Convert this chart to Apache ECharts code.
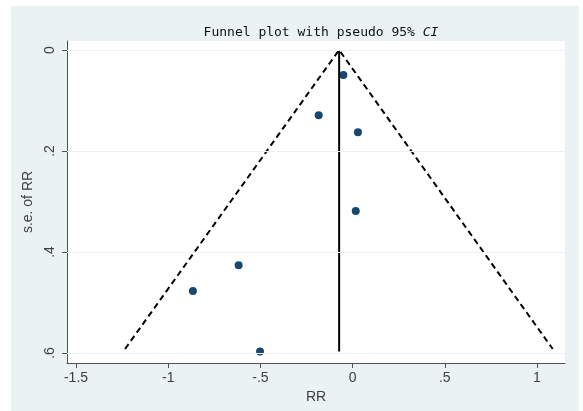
<!DOCTYPE html>
<html>
<head>
<meta charset="utf-8">
<script src="https://cdn.jsdelivr.net/npm/echarts@6/dist/echarts.min.js"></script>
<style>
  html, body { margin: 0; padding: 0; background: #fff; }
  #chart { width: 583px; height: 411px; }
</style>
</head>
<body>
<div id="chart"></div>
<script>
// studies: effect (RR, log scale) and its standard error
var studyRR = [-0.050, -0.184, 0.029, 0.017, -0.618, -0.866, -0.502];
var studySE = [0.0495, 0.129, 0.163, 0.319, 0.426, 0.477, 0.597];

// pseudo 95% CI limits and pooled estimate
var funnelX = [-1.234, -0.073, 1.085];
var funnelY = [0.592, 0, 0.592];
var pooledX = [-0.073, -0.073];
var pooledY = [0, 0.597];

var xTicks = [-1.5, -1, -0.5, 0, 0.5, 1];
var yTicks = [0, 0.2, 0.4, 0.6];

function stataNum(v) {
    // Stata style: .5 instead of 0.5
    var s = String(v);
    return s.replace(/^0\./, '.').replace(/^-0\./, '-.');
}

function zip(xs, ys) {
    var out = [];
    for (var i = 0; i < xs.length; i++) {
        out.push([xs[i], ys[i]]);
    }
    return out;
}

var chart = echarts.init(document.getElementById('chart'));

var axisColor = '#505050';
var labelFont = { fontFamily: 'Liberation Sans', fontSize: 14, color: '#404040' };

var option = {
    animation: false,
    backgroundColor: '#fff',
    graphic: [{
        type: 'rect',
        z: -10,
        shape: { x: 11, y: 6, width: 568, height: 405 },
        style: { fill: '#eaf2f3' }
    }],
    title: {
        text: 'Funnel plot with pseudo 95% {i|CI}',
        left: 316,
        top: 21,
        textAlign: 'center',
        textStyle: {
            fontFamily: 'DejaVu Sans Mono',
            fontSize: 13,
            fontWeight: 'normal',
            color: '#111',
            rich: {
                i: { fontFamily: 'DejaVu Sans Mono', fontSize: 13, fontStyle: 'italic', color: '#111' }
            }
        }
    },
    grid: {
        left: 67,
        top: 41,
        right: 18,
        bottom: 48,
        show: true,
        backgroundColor: '#fff',
        borderWidth: 0
    },
    xAxis: {
        type: 'value',
        min: -1.5488,
        max: 1.1518,
        name: 'RR',
        nameLocation: 'middle',
        nameGap: 21,
        nameTextStyle: labelFont,
        axisLine: { show: true, onZero: false, lineStyle: { color: axisColor, width: 1 } },
        axisTick: { show: true, inside: false, customValues: xTicks, length: 5, lineStyle: { color: axisColor } },
        axisLabel: Object.assign({ customValues: xTicks, margin: 8, formatter: stataNum }, labelFont),
        splitLine: { show: false }
    },
    yAxis: {
        type: 'value',
        inverse: true,
        min: -0.0178,
        max: 0.6198,
        name: 's.e. of RR',
        nameLocation: 'middle',
        nameRotate: 90,
        nameGap: 27,
        nameTextStyle: labelFont,
        axisLine: { show: true, onZero: false, lineStyle: { color: axisColor, width: 1 } },
        axisTick: { show: true, inside: false, customValues: yTicks, length: 5, lineStyle: { color: axisColor } },
        axisLabel: Object.assign({ customValues: yTicks, rotate: 90, margin: 10, formatter: stataNum }, labelFont),
        splitLine: { show: false }
    },
    series: [{
        // gridlines
        type: 'line',
        data: [],
        silent: true,
        markLine: {
            silent: true,
            symbol: 'none',
            label: { show: false },
            lineStyle: { color: '#eaf2f3', type: 'solid', width: 1 },
            data: yTicks.map(function (v) { return { yAxis: v }; })
        }
    }, {
        name: 'CI',
        type: 'line',
        data: zip(funnelX, funnelY),
        symbol: 'none',
        lineStyle: { color: '#000', width: 2, type: [6, 4] }
    }, {
        name: 'pooled',
        type: 'line',
        data: zip(pooledX, pooledY),
        symbol: 'none',
        lineStyle: { color: '#000', width: 2 }
    }, {
        name: 'studies',
        type: 'scatter',
        data: zip(studyRR, studySE),
        symbolSize: 8,
        itemStyle: { color: '#1a476f', opacity: 1 }
    }]
};

chart.setOption(option);
</script>
</body>
</html>
